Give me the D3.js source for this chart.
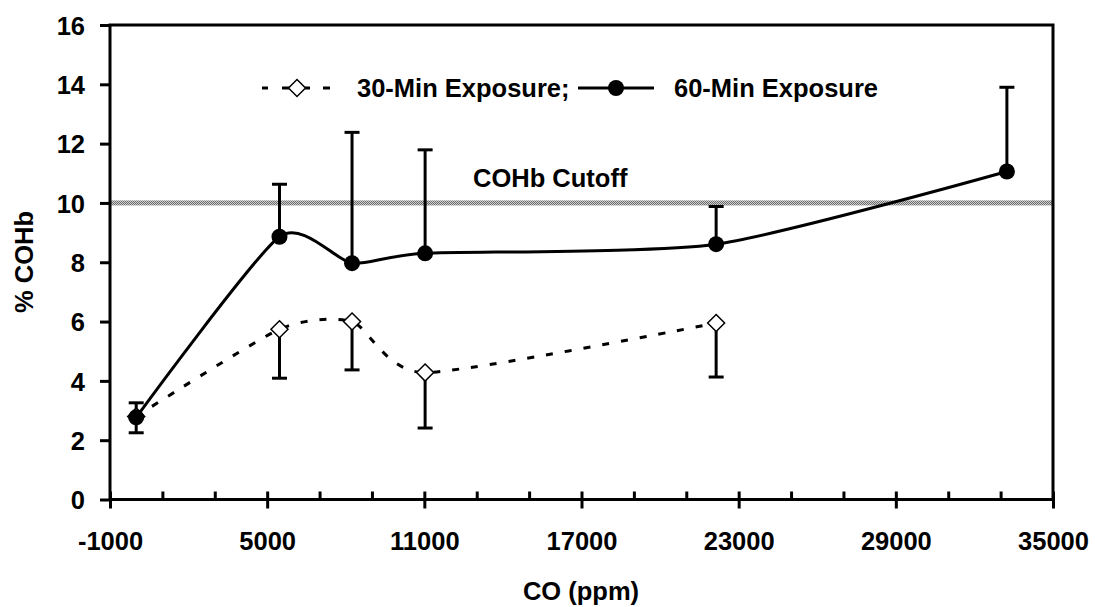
<!DOCTYPE html>
<html>
<head>
<meta charset="utf-8">
<script src="https://cdn.jsdelivr.net/npm/d3@7"></script>
<style>
    body { margin: 0; background: #fff; }
    svg text { font-family: "Liberation Sans", Arial, sans-serif; font-weight: bold; fill: #000; }
</style>
</head>
<body>
<svg width="1095" height="607"></svg>
<script>
// data
var co60 = [0, 5470, 8240, 11030, 22140, 33240];
var cohb60 = [2.77, 8.86, 7.97, 8.30, 8.61, 11.06];
var errUp60 = [0.49, 1.77, 4.41, 3.49, 1.27, 2.84];

var co30 = [0, 5470, 8240, 11030, 22140];
var cohb30 = [2.8, 5.74, 6.0, 4.28, 5.95];
var errDown30 = [0.55, 1.65, 1.63, 1.87, 1.82];

var cutoff = 10;
var cutoffLabel = 'COHb Cutoff';
var seriesNames = ['30-Min Exposure;', '60-Min Exposure'];
var xTicks = [-1000, 5000, 11000, 17000, 23000, 29000, 35000];
var xMinorTicks = [1000, 3000, 7000, 9000, 13000, 15000, 19000, 21000, 25000, 27000, 31000, 33000];
var yTicks = [0, 2, 4, 6, 8, 10, 12, 14, 16];
var xTitle = 'CO (ppm)';
var yTitle = '% COHb';

var fs = 25.5;
var svg = d3.select('svg');
svg.append('rect').attr('width', 1095).attr('height', 607).attr('fill', '#fff');

var x = d3.scaleLinear().domain([-1000, 35000]).range([110, 1053]);
var y = d3.scaleLinear().domain([0, 16]).range([499.5, 25]);

// checkered grey for the cutoff band
var pat = svg.append('defs').append('pattern')
    .attr('id', 'checker')
    .attr('patternUnits', 'userSpaceOnUse')
    .attr('width', 2).attr('height', 2);
pat.append('rect').attr('width', 2).attr('height', 2).attr('fill', '#d0d0d0');
pat.append('rect').attr('width', 1).attr('height', 1).attr('fill', '#6a6a6a');
pat.append('rect').attr('x', 1).attr('y', 1).attr('width', 1).attr('height', 1).attr('fill', '#6a6a6a');

// y axis
var yAxis = svg.append('g')
    .attr('transform', 'translate(' + x(-1000) + ',0)')
    .call(d3.axisLeft(y).tickValues(yTicks).tickFormat(d => String(d)).tickSize(10).tickPadding(15).tickSizeOuter(0));
yAxis.select('.domain').remove();
yAxis.selectAll('.tick line').attr('stroke', '#000').attr('stroke-width', 3);
yAxis.selectAll('.tick text').attr('font-size', fs).attr('dy', '0.36em');

// x axis: major ticks cross the axis, minor ticks point inward
var xAxis = svg.append('g')
    .attr('transform', 'translate(0,' + y(0) + ')')
    .call(d3.axisBottom(x).tickValues(xTicks).tickFormat(d => String(d)).tickSizeOuter(0));
xAxis.select('.domain').remove();
xAxis.selectAll('.tick line').attr('y1', -8).attr('y2', 9).attr('stroke', '#000').attr('stroke-width', 3);
xAxis.selectAll('.tick text').attr('font-size', fs).attr('y', 50.5).attr('dy', 0);

var xMinor = svg.append('g')
    .attr('transform', 'translate(0,' + y(0) + ')')
    .call(d3.axisBottom(x).tickValues(xMinorTicks).tickSize(-8).tickFormat(''));
xMinor.select('.domain').remove();
xMinor.selectAll('.tick line').attr('stroke', '#000').attr('stroke-width', 3);

// cutoff band
svg.append('rect')
    .attr('x', x(-1000))
    .attr('y', y(cutoff) - 2.5)
    .attr('width', x(35000) - x(-1000))
    .attr('height', 5)
    .attr('fill', 'url(#checker)');
svg.append('text')
    .attr('x', 473)
    .attr('y', y(cutoff) - 16)
    .attr('font-size', fs)
    .text(cutoffLabel);

// plot frame
svg.append('rect')
    .attr('x', x(-1000))
    .attr('y', y(16))
    .attr('width', x(35000) - x(-1000))
    .attr('height', y(0) - y(16))
    .attr('fill', 'none')
    .attr('stroke', '#000')
    .attr('stroke-width', 3);

// error bars
var cap = 7.5;
var e30 = svg.append('g').selectAll('g').data(co30).enter().append('g');
e30.append('line')
    .attr('x1', d => x(d)).attr('x2', d => x(d))
    .attr('y1', (d, i) => y(cohb30[i]))
    .attr('y2', (d, i) => y(cohb30[i] - errDown30[i]));
e30.append('line')
    .attr('x1', d => x(d) - cap).attr('x2', d => x(d) + cap)
    .attr('y1', (d, i) => y(cohb30[i] - errDown30[i]))
    .attr('y2', (d, i) => y(cohb30[i] - errDown30[i]));
e30.selectAll('line').attr('stroke', '#000').attr('stroke-width', 3);

var e60 = svg.append('g').selectAll('g').data(co60).enter().append('g');
e60.append('line')
    .attr('x1', d => x(d)).attr('x2', d => x(d))
    .attr('y1', (d, i) => y(cohb60[i]))
    .attr('y2', (d, i) => y(cohb60[i] + errUp60[i]));
e60.append('line')
    .attr('x1', d => x(d) - cap).attr('x2', d => x(d) + cap)
    .attr('y1', (d, i) => y(cohb60[i] + errUp60[i]))
    .attr('y2', (d, i) => y(cohb60[i] + errUp60[i]));
e60.selectAll('line').attr('stroke', '#000').attr('stroke-width', 3);

// smoothed lines
var line = d3.line()
    .x(d => x(d[0]))
    .y(d => y(d[1]))
    .curve(d3.curveCardinal.tension(0.35));

svg.append('path')
    .datum(co30.map((d, i) => [d, cohb30[i]]))
    .attr('d', line)
    .attr('fill', 'none')
    .attr('stroke', '#000')
    .attr('stroke-width', 3)
    .attr('stroke-dasharray', '7,12');

svg.append('path')
    .datum(co60.map((d, i) => [d, cohb60[i]]))
    .attr('d', line)
    .attr('fill', 'none')
    .attr('stroke', '#000')
    .attr('stroke-width', 3);

// markers
var diamond = 'M0,-8.5L8.5,0L0,8.5L-8.5,0Z';
svg.append('g').selectAll('path')
    .data(co30)
    .enter()
    .append('path')
    .attr('d', diamond)
    .attr('transform', (d, i) => 'translate(' + x(d) + ',' + y(cohb30[i]) + ')')
    .attr('fill', '#fff')
    .attr('stroke', '#000')
    .attr('stroke-width', 1.5);

svg.append('g').selectAll('circle')
    .data(co60)
    .enter()
    .append('circle')
    .attr('cx', d => x(d))
    .attr('cy', (d, i) => y(cohb60[i]))
    .attr('r', 8)
    .attr('fill', '#000');

// legend
var ly = 88;
svg.append('line')
    .attr('x1', 262).attr('x2', 330).attr('y1', ly).attr('y2', ly)
    .attr('stroke', '#000').attr('stroke-width', 3).attr('stroke-dasharray', '6,14,8,15,5,13,7');
svg.append('path')
    .attr('d', diamond)
    .attr('transform', 'translate(297,' + ly + ')')
    .attr('fill', '#fff').attr('stroke', '#000').attr('stroke-width', 1.5);
svg.append('text').attr('x', 357).attr('y', ly + 9).attr('font-size', fs).text(seriesNames[0]);

svg.append('line')
    .attr('x1', 578).attr('x2', 654).attr('y1', ly).attr('y2', ly)
    .attr('stroke', '#000').attr('stroke-width', 3);
svg.append('circle').attr('cx', 616).attr('cy', ly).attr('r', 8).attr('fill', '#000');
svg.append('text').attr('x', 674).attr('y', ly + 9).attr('font-size', fs).text(seriesNames[1]);

// axis titles
svg.append('text')
    .attr('x', 581)
    .attr('y', 600)
    .attr('text-anchor', 'middle')
    .attr('font-size', fs)
    .text(xTitle);
svg.append('text')
    .attr('transform', 'translate(33,262) rotate(-90)')
    .attr('text-anchor', 'middle')
    .attr('font-size', fs)
    .text(yTitle);
</script>
</body>
</html>
